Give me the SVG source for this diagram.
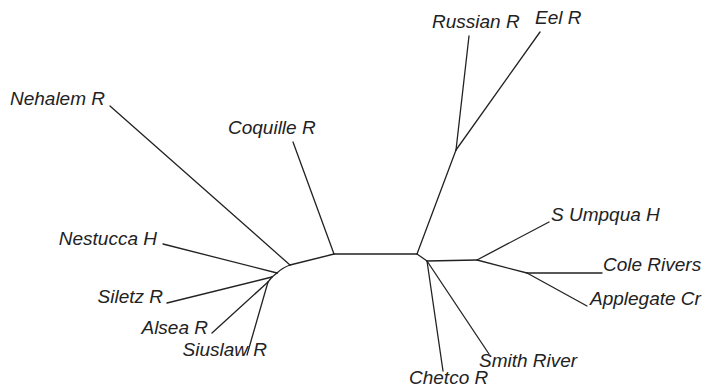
<svg xmlns="http://www.w3.org/2000/svg" width="708" height="387" viewBox="0 0 708 387">
  <style>
    .edge { stroke: #222; stroke-width: 1.3; fill: none; stroke-linecap: round; }
    .tip { font-family: "Liberation Sans", Arial, sans-serif; font-style: italic; font-size: 19px; fill: #222; }
    .end { text-anchor: end; }
  </style>
  <rect width="708" height="387" fill="#fff"/>

  <!-- unrooted tree: internal edges and tip edges -->
  <g id="connectors" class="edge">
    <line x1="334" y1="254" x2="417" y2="254"/>
    <line x1="334" y1="254" x2="293" y2="142"/>
    <line x1="334" y1="254" x2="290" y2="265"/>
    <line x1="290" y1="265" x2="110" y2="106"/>
    <path d="M290 265 Q282 268 277 273"/>
    <line x1="277" y1="273" x2="163" y2="244"/>
    <line x1="277" y1="273" x2="272" y2="277"/>
    <line x1="272" y1="277" x2="167" y2="303"/>
    <line x1="272" y1="277" x2="268" y2="282"/>
    <line x1="268" y1="282" x2="212" y2="333"/>
    <line x1="268" y1="282" x2="247" y2="355"/>
    <line x1="417" y1="254" x2="456" y2="150"/>
    <line x1="456" y1="150" x2="469" y2="36"/>
    <line x1="456" y1="150" x2="540" y2="32"/>
    <line x1="417" y1="254" x2="427" y2="261"/>
    <line x1="427" y1="261" x2="477" y2="260"/>
    <line x1="477" y1="260" x2="549" y2="222"/>
    <line x1="477" y1="260" x2="527" y2="273"/>
    <line x1="527" y1="273" x2="602" y2="273"/>
    <line x1="527" y1="273" x2="587" y2="306"/>
    <line x1="427" y1="261" x2="489" y2="354"/>
    <line x1="427" y1="261" x2="443" y2="371"/>
  </g>

  <g id="nehalem"><text class="tip end" x="105" y="105">Nehalem R</text></g>
  <g id="coquille"><text class="tip" x="228" y="134">Coquille R</text></g>
  <g id="nestucca"><text class="tip end" x="157" y="245">Nestucca H</text></g>
  <g id="siletz"><text class="tip end" x="163" y="303">Siletz R</text></g>
  <g id="alsea"><text class="tip end" x="208" y="334">Alsea R</text></g>
  <g id="siuslaw"><text class="tip end" x="267" y="356">Siuslaw R</text></g>
  <g id="russian"><text class="tip" x="432" y="28">Russian R</text></g>
  <g id="eel"><text class="tip" x="535" y="24">Eel R</text></g>
  <g id="sumpqua"><text class="tip" x="551" y="221">S Umpqua H</text></g>
  <g id="colerivers"><text class="tip" x="603" y="271">Cole Rivers</text></g>
  <g id="applegate"><text class="tip" x="590" y="305">Applegate Cr</text></g>
  <g id="smith"><text class="tip" x="479" y="367">Smith River</text></g>
  <g id="chetco"><text class="tip" x="409" y="384">Chetco R</text></g>
</svg>
